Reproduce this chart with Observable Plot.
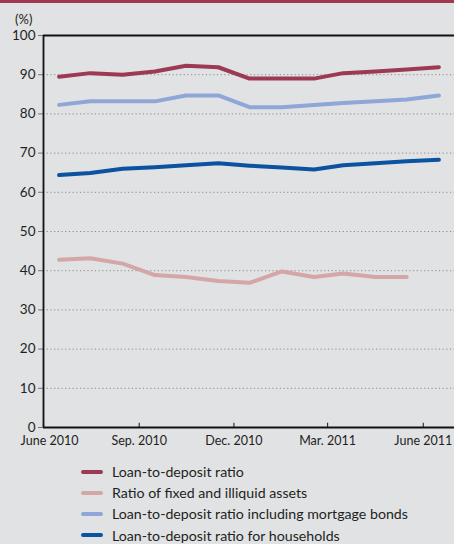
<!DOCTYPE html>
<html>
<head>
<meta charset="utf-8">
<script src="https://cdn.jsdelivr.net/npm/d3@7"></script>
<script src="https://cdn.jsdelivr.net/npm/@observablehq/plot@0.6"></script>
<style>
  html, body { margin: 0; padding: 0; }
  body { width: 454px; height: 544px; background: #e1e2e4; border-top: 3px solid #a0384f; box-sizing: border-box; position: relative; overflow: hidden; font-family: Lato, "Open Sans", sans-serif; color: #231f20; }
  #unit { position: absolute; left: 15px; top: 8px; font-size: 13px; }
  #legend { position: absolute; left: 81px; top: 458px; font-size: 14.2px; }
  .row { height: 21.2px; display: flex; align-items: center; }
  .sw { width: 22px; height: 4px; border-radius: 2px; margin-right: 9px; }
</style>
</head>
<body>
<div id="unit">(%)</div>
<div id="chart"></div>
<div id="legend"></div>
<script>
const months = ["2010-06","2010-07","2010-08","2010-09","2010-10","2010-11","2010-12","2011-01","2011-02","2011-03","2011-04","2011-05","2011-06"];
const seriesNames = [
  "Loan-to-deposit ratio",
  "Ratio of fixed and illiquid assets",
  "Loan-to-deposit ratio including mortgage bonds",
  "Loan-to-deposit ratio for households"
];
const seriesColors = ["#9c3a53", "#d4a6a8", "#8fa6d8", "#0b52a0"];
const loanToDeposit = [89.5, 90.4, 90.0, 90.8, 92.3, 91.9, 89.0, 89.0, 89.0, 90.4, 90.8, 91.3, 91.9];
const fixedIlliquid = [42.8, 43.2, 41.8, 38.9, 38.4, 37.4, 36.9, 39.8, 38.4, 39.3, 38.4, 38.4];
const inclMortgage = [82.3, 83.2, 83.2, 83.2, 84.7, 84.7, 81.7, 81.7, 82.3, 82.8, 83.2, 83.7, 84.7];
const households = [64.4, 64.9, 66.0, 66.4, 66.9, 67.4, 66.8, 66.3, 65.8, 66.9, 67.4, 67.9, 68.3];
const xTickDates = ["2010-06","2010-09","2010-12","2011-03","2011-06"];
const xTickLabels = ["June 2010","Sep. 2010","Dec. 2010","Mar. 2011","June 2011"];
const yTicks = [0,10,20,30,40,50,60,70,80,90,100];

const allSeries = [loanToDeposit, fixedIlliquid, inclMortgage, households];
const mid = m => new Date(m + "-16T00:00:00Z");
const start = m => new Date(m + "-01T00:00:00Z");
const data = [];
allSeries.forEach((vals, i) => vals.forEach((v, j) => data.push({series: seriesNames[i], date: mid(months[j]), value: v})));
const tickDates = xTickDates.map(start);
const labelOf = new Map(tickDates.map((d, i) => [+d, xTickLabels[i]]));

const chart = Plot.plot({
  width: 454,
  height: 449,
  marginTop: 32,
  marginBottom: 25,
  marginLeft: 43,
  marginRight: 0,
  style: {background: "transparent", fontFamily: "Lato, 'Open Sans', sans-serif", fontSize: "13px", color: "#231f20"},
  x: {type: "utc", domain: [start("2010-06"), start("2011-07")]},
  y: {domain: [0, 100]},
  color: {domain: seriesNames, range: seriesColors},
  marks: [
    Plot.gridY(yTicks.filter(t => t > 0 && t < 100), {stroke: "#8a8a8a", strokeOpacity: 1, strokeDasharray: "1.2,2.5"}),
    Plot.axisY(yTicks, {tickSize: 5, tickPadding: 3, stroke: "#777", fontSize: 13.5, label: null}),
    Plot.axisX(tickDates.slice(0, 1), {tickSize: 0, tickPadding: 9, dx: 6, tickFormat: d => labelOf.get(+d), fontSize: 12.5, label: null}),
    Plot.axisX(tickDates.slice(1), {tickSize: 0, tickPadding: 9, tickFormat: d => labelOf.get(+d), fontSize: 12.5, label: null}),
    Plot.ruleX(tickDates, {x: d => d, y1: 0, y2: 1.1, stroke: "#333", strokeWidth: 1.2}),
    Plot.line(data, {x: "date", y: "value", z: "series", stroke: "series", strokeWidth: 4, strokeLinejoin: "round", strokeLinecap: "round"}),
    Plot.ruleY([0, 100], {stroke: "#111", strokeWidth: 1.8}),
    Plot.ruleX([start("2010-06")], {stroke: "#111", strokeWidth: 1.8})
  ]
});
document.getElementById("chart").appendChild(chart);

const legend = document.getElementById("legend");
seriesNames.forEach((n, i) => {
  const row = document.createElement("div");
  row.className = "row";
  row.innerHTML = `<span class="sw" style="background:${seriesColors[i]}"></span><span>${n}</span>`;
  legend.appendChild(row);
});
</script>
</body>
</html>
